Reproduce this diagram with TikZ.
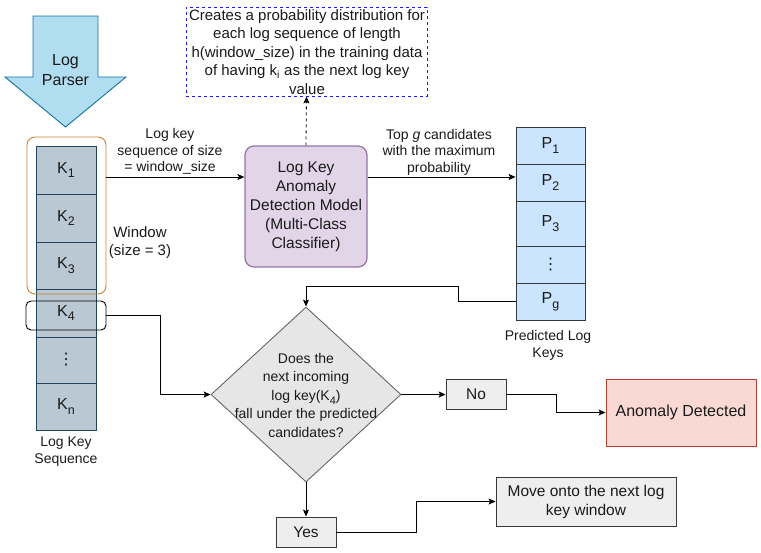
\documentclass[tikz,border=0pt]{standalone}
\usepackage{fontspec}
\setmainfont{Liberation Sans}
\newfontfamily\mysymfont{DejaVu Sans}
\usetikzlibrary{arrows.meta,shapes.geometric}
\newcommand\mysubx[1]{\raisebox{-0.3em}{\scalebox{0.78}{#1}}}
\newcommand\myvdots{{\mysymfont ⋮}}
\definecolor{txtc}{HTML}{1A1A1A}
\definecolor{lpfill}{HTML}{B1DDF0}
\definecolor{lpstroke}{HTML}{10739E}
\definecolor{kfill}{HTML}{BAC8D3}
\definecolor{kstroke}{HTML}{23445D}
\definecolor{wincol}{HTML}{C98234}
\definecolor{mfill}{HTML}{E1D5E7}
\definecolor{mstroke}{HTML}{9673A6}
\definecolor{pfill}{HTML}{CCE5FF}
\definecolor{gstroke}{HTML}{36393D}
\definecolor{gfill}{HTML}{EEEEEE}
\definecolor{dfill}{HTML}{E6E6E6}
\definecolor{dstroke}{HTML}{666666}
\definecolor{afill}{HTML}{FAD9D5}
\definecolor{astroke}{HTML}{AE4132}
\definecolor{dashblue}{HTML}{1A1AFF}
\begin{document}
\begin{tikzpicture}[x=1pt,y=-1pt,
  txt/.style={font=\fontsize{15.5}{19}\selectfont, text=txtc, align=center, inner sep=0},
  lbl/.style={font=\fontsize{14}{16.5}\selectfont, text=txtc, align=center, inner sep=0},
  kcell/.style={draw=kstroke, fill=kfill, line width=0.9pt, minimum width=60, minimum height=#1, inner sep=0, font=\fontsize{16}{18}\selectfont, text=txtc},
  pcell/.style={draw=gstroke, fill=pfill, line width=0.8pt, minimum width=69, minimum height=#1, inner sep=0, font=\fontsize{16}{18}\selectfont, text=txtc},
  graybox/.style={draw=gstroke, fill=gfill, line width=0.9pt, inner sep=0, font=\fontsize{15.5}{19}\selectfont, text=txtc, align=center},
  arr/.style={line width=0.9pt, draw=black, -{Stealth[length=7pt,width=6pt,inset=1.5pt]}},
  conn/.style={line width=0.9pt, draw=black}
]
\useasboundingbox (0,0) rectangle (761,552);

% Log Parser arrow
\draw[fill=lpfill, draw=lpstroke, line width=0.9pt]
  (33,16) -- (98,16) -- (98,77) -- (126,77) -- (65.5,127) -- (5,77) -- (33,77) -- cycle;
\node[txt, font=\fontsize{16}{20}\selectfont] (lp) at (65.5,70.5) {Log\\Parser};

% Log key sequence column
\node[kcell=48] (K1) at (66,170) {K\mysubx{1}};
\node[kcell=48] (K2) at (66,218) {K\mysubx{2}};
\node[kcell=47] (K3) at (66,265.5) {K\mysubx{3}};
\node[kcell=48] (K4) at (66,313) {K\mysubx{4}};
\node[kcell=46] (Kd) at (66,360) {\myvdots};
\node[kcell=47] (Kn) at (66,406.5) {K\mysubx{n}};
\node[lbl] (lks) at (66,451.5) {Log Key\\Sequence};

% window rectangles
\node[draw=wincol, line width=0.9pt, rounded corners=8pt, minimum width=79, minimum height=157, inner sep=0] (win) at (66.5,215.5) {};
\node[draw=black, line width=0.9pt, rounded corners=5pt, minimum width=80, minimum height=29, inner sep=0] (k4box) at (66,315.5) {};
\node[txt, font=\fontsize{15}{18.5}\selectfont] (wlab) at (140,242.5) {Window\\(size = 3)};

% model
\node[draw=mstroke, fill=mfill, line width=1.2pt, rounded corners=9pt, minimum width=122, minimum height=121, inner sep=0] (model) at (306,206.5) {};
\node[txt] (mtext) at (306,207) {Log Key\\Anomaly\\Detection Model\\(Multi-Class\\Classifier)};

% dashed description box
\node[draw=dashblue, dashed, line width=0.9pt, minimum width=241, minimum height=89, inner sep=0] (desc) at (306.5,51.5) {};
\node[txt, font=\fontsize{15}{18.5}\selectfont] (dtext) at (307,52) {Creates a probability distribution for\\each log sequence of length\\h(window\_size) in the training data\\of having k\textsubscript{i} as the next log key\\value};
\draw[arr, dashed, line width=0.8pt] (model.north) -- (desc.south);

% arrow sequence -> model
\draw[arr] (win.east |- 0,177) -- (model.west |- 0,177);
\node[lbl] (l1) at (170,151.5) {Log key\\sequence of size\\= window\_size};

% predicted column
\node[pcell=37] (P1) at (550.5,145.5) {P\mysubx{1}};
\node[pcell=37] (P2) at (550.5,182.5) {P\mysubx{2}};
\node[pcell=45] (P3) at (550.5,223.5) {P\mysubx{3}};
\node[pcell=37] (Pd) at (550.5,264.5) {\myvdots};
\node[pcell=37] (Pg) at (550.5,301.5) {P\mysubx{g}};
\node[lbl] (plab) at (548,345.5) {Predicted Log\\Keys};

\draw[arr] (model.east |- 0,177) -- (P2.west |- 0,177);
\node[lbl] (l2) at (439,152) {Top \textit{g} candidates\\with the maximum\\probability};

% diamond
\node[diamond, aspect=1.086, draw=dstroke, fill=dfill, line width=0.9pt, minimum width=190, minimum height=175, inner sep=0] (dia) at (306,394.5) {};
\node[lbl, font=\fontsize{14}{18.5}\selectfont] (diatext) at (306,395) {Does the\\next incoming\\log key(K\mysubx{4})\\fall under the predicted\\candidates?};

\draw[arr] (Pg.west) -| (458,286) -| (dia.north);
\draw[arr] (k4box.east) -| (160,394.5) -- (dia.west);

% No / Anomaly
\node[graybox, minimum width=60, minimum height=30] (no) at (476,394.5) {No};
\node[draw=astroke, fill=afill, line width=0.9pt, minimum width=150, minimum height=67, inner sep=0, font=\fontsize{16}{19}\selectfont, text=txtc] (anom) at (681,412.5) {Anomaly Detected};
\draw[arr] (dia.east) -- (no.west);
\draw[arr] (no.east) -| (556,412.5) -- (anom.west);

% Yes / Move
\node[graybox, minimum width=60, minimum height=30] (yes) at (306,532) {Yes};
\node[graybox, minimum width=180, minimum height=49] (move) at (586,501.5) {Move onto the next log\\key window};
\draw[arr] (dia.south) -- (yes.north);
\draw[arr] (yes.east) -| (416,501.5) -- (move.west);
\end{tikzpicture}
\end{document}
